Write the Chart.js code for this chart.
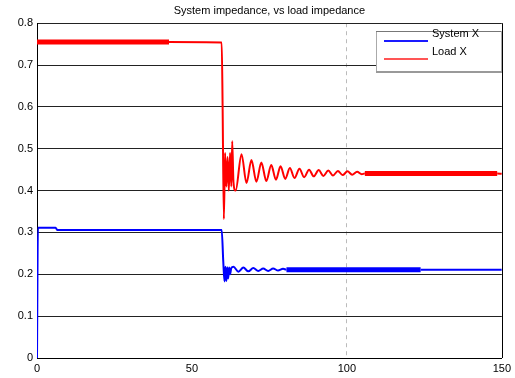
<!DOCTYPE html>
<html>
<head>
<meta charset="utf-8">
<script src="https://cdn.jsdelivr.net/npm/chart.js@4/dist/chart.umd.min.js"></script>
<style>
  body { margin: 0; background: #fff; }
</style>
</head>
<body>
<canvas id="graficoImpedancia" width="515" height="378"></canvas>
<script>
// valores
const tituloGrafico = "System impedance, vs load impedance";
const nomesSeries = ["System X", "Load X"];
const ticksX = [0, 50, 100, 150];
const ticksY = [0, 0.1, 0.2, 0.3, 0.4, 0.5, 0.6, 0.7, 0.8];

const tempoSistema = [0, 0.3, 6, 6.6, 59.6, 60.1, 60.5, 60.8, 61.1, 61.4, 61.7, 62.0, 62.3, 62.7,
  63.4, 65.0, 66.6, 68.2, 69.8, 71.4, 73.0, 74.6, 76.2, 77.8, 79.4, 80.5, 123.8, 150];
const valoresSistema = [0, 0.311, 0.311, 0.306, 0.306, 0.232, 0.183, 0.218, 0.184, 0.217, 0.19, 0.216, 0.2, 0.215,
  0.218, 0.206, 0.216, 0.207, 0.215, 0.208, 0.214, 0.208, 0.214, 0.209, 0.213, 0.211, 0.211, 0.211];

const tempoCarga = [0, 42.6, 59.6, 59.9, 60.3, 60.7, 61.1, 61.5, 61.9, 62.3, 62.7, 63.0, 63.4, 64.1,
  66.0, 67.6, 69.2, 70.8, 72.4, 74.0, 75.6, 77.1, 78.6, 80.1, 81.6, 83.1, 84.7, 86.2, 87.8, 89.3, 90.9, 92.4,
  94.0, 95.5, 97.1, 98.6, 100.2, 101.7, 103.3, 104.8, 105.8, 148.5, 150];
const valoresCarga = [0.755, 0.755, 0.754, 0.6, 0.332, 0.49, 0.41, 0.48, 0.4, 0.49, 0.41, 0.518, 0.42, 0.4,
  0.487, 0.418, 0.473, 0.421, 0.467, 0.423, 0.461, 0.426, 0.458, 0.428, 0.454, 0.43, 0.452, 0.432, 0.45, 0.434, 0.449, 0.435,
  0.448, 0.436, 0.447, 0.437, 0.446, 0.438, 0.445, 0.439, 0.441, 0.441, 0.44];

function montarPontos(tempos, valores) {
  return tempos.map((t, i) => ({ x: t, y: valores[i] }));
}

// trechos que aparecem mais grossos na figura
function larguraSegmento(faixas) {
  return (ctx) => {
    const a = ctx.p0.parsed.x;
    const b = ctx.p1.parsed.x;
    for (const f of faixas) {
      if (a >= f[0] && b <= f[1]) return 5;
    }
    return 2;
  };
}

const fonte = { family: "'Liberation Sans', Arial, sans-serif", size: 11 };

const pluginMoldura = {
  id: "moldura",
  afterDraw(chart) {
    const c = chart.ctx;
    const area = chart.chartArea;
    c.save();
    c.strokeStyle = "#000";
    c.lineWidth = 1;
    c.beginPath();
    c.moveTo(Math.round(area.right) + 0.5, area.top);
    c.lineTo(Math.round(area.right) + 0.5, area.bottom);
    c.stroke();

    // legenda
    const x0 = 376, y0 = 31, w = 125, h = 40;
    c.fillStyle = "#fff";
    c.fillRect(x0, y0, w, h);
    c.strokeStyle = "#aaa";
    c.strokeRect(x0 + 0.5, y0 + 0.5, w, h);
    c.fillStyle = "#777";
    c.fillRect(x0, y0, w, 1);
    c.fillStyle = "#999";
    c.fillRect(x0, y0 + h, w + 1, 2);
    const cores = ["#1a1aff", "#ff5555"];
    const ys = [41, 59];
    const yTexto = [34, 52];
    c.font = "11px 'Liberation Sans', Arial, sans-serif";
    c.textBaseline = "middle";
    c.textAlign = "left";
    for (let i = 0; i < nomesSeries.length; i++) {
      c.strokeStyle = cores[i];
      c.lineWidth = 2;
      c.beginPath();
      c.moveTo(384, ys[i]);
      c.lineTo(428, ys[i]);
      c.stroke();
      c.fillStyle = "#000";
      c.fillText(nomesSeries[i], 432, yTexto[i]);
    }
    c.restore();
  },
};

const dadosGrafico = {
  datasets: [
    {
      label: nomesSeries[0],
      data: montarPontos(tempoSistema, valoresSistema),
      borderColor: "#0000ff",
      backgroundColor: "#0000ff",
      borderWidth: 2,
      pointRadius: 0,
      cubicInterpolationMode: "monotone",
      segment: { borderWidth: larguraSegmento([[80.5, 123.8]]) },
    },
    {
      label: nomesSeries[1],
      data: montarPontos(tempoCarga, valoresCarga),
      borderColor: "#ff0000",
      backgroundColor: "#ff0000",
      borderWidth: 2,
      pointRadius: 0,
      cubicInterpolationMode: "monotone",
      segment: { borderWidth: larguraSegmento([[0, 42.6], [105.8, 148.5]]) },
    },
  ],
};

const configGrafico = {
  type: "line",
  data: dadosGrafico,
  options: {
    animation: false,
    responsive: false,
    layout: { padding: { left: 0, right: 10, top: 0, bottom: 0 } },
    plugins: {
      legend: { display: false },
      tooltip: { enabled: false },
      title: {
        display: true,
        text: tituloGrafico,
        color: "#000",
        fullSize: false,
        font: { ...fonte, weight: "normal" },
        padding: { top: 4, bottom: 6 },
      },
    },
    scales: {
      x: {
        type: "linear",
        min: ticksX[0],
        max: ticksX[ticksX.length - 1],
        afterBuildTicks: (s) => { s.ticks = ticksX.map((v) => ({ value: v })); },
        afterFit: (s) => { s.height = 20; },
        ticks: { color: "#000", font: fonte, padding: 4, maxRotation: 0 },
        grid: {
          drawTicks: false,
          color: (ctx) => (ctx.tick && ctx.tick.value === 100 ? "#bbb" : "rgba(0,0,0,0)"),
        },
        border: { color: "#000", width: 1, dash: [4, 4] },
      },
      y: {
        min: ticksY[0],
        max: ticksY[ticksY.length - 1],
        afterBuildTicks: (s) => { s.ticks = ticksY.map((v) => ({ value: v })); },
        afterFit: (s) => { s.width = 37; },
        ticks: {
          color: "#000",
          font: fonte,
          padding: 4,
          callback: (v) => String(Number(v.toFixed(1))),
        },
        grid: { drawTicks: false, color: "#222", lineWidth: 1 },
        border: { color: "#000", width: 1 },
      },
    },
  },
  plugins: [pluginMoldura],
};

const grafico = new Chart(document.getElementById("graficoImpedancia"), configGrafico);
</script>
</body>
</html>
